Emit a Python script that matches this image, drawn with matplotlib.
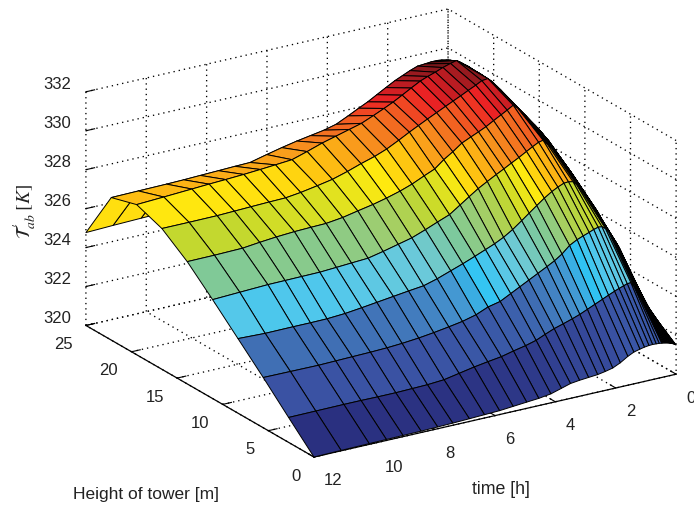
import numpy as np
import matplotlib
matplotlib.use("Agg")
import matplotlib.pyplot as plt
from matplotlib.colors import LinearSegmentedColormap, Normalize

height_m = [0, 2.78, 5.56, 8.33, 11.11, 13.89, 16.67, 19.44, 22.22, 25]
time_h = [12, 11.1, 10.17, 9.6, 9.05, 8.45, 7.9, 7.4, 6.85, 6.35, 5.85, 5.4, 4.95, 4.55,
          4.15, 3.8, 3.5, 3.2, 2.9, 2.6, 2.35, 2.1, 1.85, 1.6, 1.4, 1.2, 1.05, 0.9, 0.78,
          0.66, 0.56, 0.48, 0.45, 0.42, 0.39, 0.36, 0.33, 0.3, 0.275, 0.25, 0.225, 0.2, 0.175,
          0.15, 0.125, 0.1, 0.075, 0.05, 0.025, 0]

temp_h0 = [320.00,320.02,320.04,320.05,320.06,320.07,320.09,320.11,320.14,320.17,320.20,320.26,320.32,320.37,320.46,320.62,320.76,320.82,320.86,320.9,320.97,321.06,321.24,321.48,321.63,321.71,321.76,321.79,321.80,321.79,321.78,321.76,321.755,321.75,321.74,321.73,321.72,321.71,321.70,321.69,321.675,321.66,321.645,321.63,321.615,321.6,321.575,321.55,321.525,321.5]
temp_h1 = [321.28,321.29,321.30,321.30,321.29,321.29,321.31,321.33,321.39,321.54,321.69,321.80,321.90,322.05,322.18,322.33,322.53,322.72,322.86,323.01,323.15,323.32,323.49,323.66,323.80,323.93,324.02,324.10,324.17,324.18,323.95,323.75,323.68,323.6,323.52,323.45,323.38,323.3,323.24,323.18,323.12,323.05,322.98,322.9,322.84,322.78,322.7,322.62,322.54,322.46]
temp_h2 = [322.58,322.57,322.56,322.58,322.60,322.62,322.65,322.70,322.78,322.88,323.00,323.12,323.30,323.56,323.70,323.98,324.22,324.46,324.70,324.94,325.15,325.41,325.76,325.97,326.09,326.2,326.3,326.36,326.35,326.2,326.0,325.8,325.72,325.65,325.58,325.5,325.42,325.35,325.28,325.2,325.12,325.05,324.95,324.85,324.72,324.6,324.48,324.35,324.22,324.1]
temp_h3 = [323.83,323.78,323.79,323.79,323.8,323.86,323.96,324.06,324.17,324.27,324.36,324.56,324.81,325.03,325.27,325.49,325.68,325.91,326.2,326.55,326.85,327.15,327.44,327.69,327.85,327.98,328.0,327.95,327.75,327.5,327.25,327.08,327.02,326.95,326.88,326.8,326.72,326.65,326.6,326.55,326.48,326.42,326.36,326.3,326.22,326.15,326.08,326.0,325.92,325.84]
temp_h4 = [325.08,325.14,325.2,325.21,325.22,325.23,325.28,325.33,325.38,325.55,325.74,325.91,326.17,326.42,326.66,327.03,327.35,327.66,327.92,328.17,328.37,328.58,328.78,329.0,329.17,329.33,329.38,329.1,328.9,328.6,328.35,328.2,328.14,328.07,328.01,327.95,327.88,327.82,327.77,327.72,327.66,327.6,327.54,327.48,327.42,327.35,327.28,327.22,327.15,327.09]
temp_h5 = [326.28,326.29,326.32,326.42,326.5,326.56,326.59,326.61,326.72,326.88,327.03,327.2,327.4,327.62,327.9,328.13,328.5,328.8,329.14,329.35,329.52,329.7,329.92,330.13,330.3,330.48,330.27,330.0,329.8,329.55,329.35,329.2,329.14,329.08,329.02,328.96,328.9,328.83,328.78,328.73,328.68,328.62,328.56,328.5,328.45,328.4,328.35,328.3,328.24,328.19]
temp_h6 = [327.23,327.23,327.24,327.27,327.3,327.33,327.35,327.45,327.6,327.75,327.98,328.22,328.43,328.67,328.98,329.27,329.5,329.73,329.95,330.17,330.35,330.53,330.72,330.9,331.06,331.1,330.88,330.6,330.38,330.12,329.9,329.72,329.67,329.62,329.56,329.5,329.44,329.38,329.33,329.28,329.22,329.17,329.11,329.05,329.0,328.95,328.9,328.85,328.81,328.77]
temp_h7 = [327.71,327.78,327.86,327.91,327.95,328.0,328.06,328.12,328.19,328.43,328.69,328.88,329.07,329.24,329.5,329.74,329.96,330.21,330.47,330.72,330.87,331.0,331.15,331.27,331.35,331.1,330.95,330.75,330.6,330.45,330.32,330.2,330.16,330.12,330.08,330.03,329.99,329.95,329.91,329.87,329.83,329.78,329.73,329.68,329.62,329.57,329.51,329.45,329.38,329.3]
temp_h8 = [327.32,327.34,327.36,327.38,327.41,327.44,327.47,327.49,327.7,327.88,328.04,328.16,328.28,328.44,328.73,329.0,329.22,329.48,329.74,329.99,330.16,330.33,330.47,330.5,330.53,330.53,330.5,330.45,330.4,330.33,330.3,330.22,330.18,330.15,330.11,330.08,330.04,330.0,329.98,329.95,329.92,329.9,329.86,329.82,329.78,329.75,329.71,329.67,329.62,329.58]
temp_h9 = [324.77,324.82,324.86,324.88,324.9,324.93,324.96,324.98,325.2,325.38,325.54,325.66,325.78,325.94,326.2,326.5,326.7,326.95,327.2,327.45,327.6,327.75,327.9,327.95,327.98,327.98,327.95,327.9,327.85,327.8,327.75,327.7,327.68,327.65,327.62,327.6,327.58,327.55,327.52,327.5,327.48,327.45,327.42,327.4,327.38,327.35,327.32,327.3,327.28,327.25]
temp_rows = [temp_h0, temp_h1, temp_h2, temp_h3, temp_h4, temp_h5, temp_h6, temp_h7, temp_h8, temp_h9]

height_ticks = [0, 5, 10, 15, 20, 25]
time_ticks = [0, 2, 4, 6, 8, 10, 12]
temp_ticks = [320, 322, 324, 326, 328, 330, 332]

color_levels = [320.0, 321.3, 322.0, 322.6, 323.1, 323.5, 323.85, 324.4, 325.05, 325.6, 326.3,
                326.8, 327.2, 327.5, 327.8, 328.2, 328.7, 329.3, 329.9, 330.5, 331.0, 331.4]
color_values = ['#2a3080', '#3a53a4', '#3a5aa8', '#4070b5', '#4595d0', '#2fc4f4', '#55c8ea',
                '#6cc9d8', '#7ec99a', '#9fcd6e', '#c3d82e', '#e8e41c', '#ffe90f', '#ffd010',
                '#fdb813', '#f99d1c', '#f47b20', '#f15a22', '#ed2224', '#bc1c22', '#8f1a1e', '#5a1012']

plt.rcParams['font.family'] = ['Liberation Sans', 'DejaVu Sans']
W, H, S = 694, 511, 800
fig = plt.figure(figsize=(W / 100, H / 100), dpi=100)
cx, cy = 370.2, 243.8
ax = fig.add_axes([(cx - S / 2) / W, (H - cy - S / 2) / H, S / W, S / H],
                  projection='3d', proj_type='ortho')
ax.patch.set_alpha(0)
ax.set_box_aspect((1, 1, 0.586), zoom=0.795)
ax.view_init(elev=21.3, azim=147.8)

Z = np.array(temp_rows)
T, X = np.meshgrid(time_h, height_m)
lo, hi = color_levels[0], color_levels[-1]
stops = [(v - lo) / (hi - lo) for v in color_levels]
cmap = LinearSegmentedColormap.from_list('surf', list(zip(stops, color_values)), N=512)
fc = cmap(Normalize(lo, hi)(Z))
ax.plot_surface(X, T, Z, facecolors=fc, shade=False, rstride=1, cstride=1,
                edgecolor='black', linewidth=0.7, antialiased=True)

ax.set_xlim(0, 25)
ax.set_ylim(0, 12)
ax.set_zlim(320, 332)
ax.set_xticks(height_ticks)
ax.set_yticks(time_ticks)
ax.set_zticks(temp_ticks)

for axis in (ax.xaxis, ax.yaxis, ax.zaxis):
    axis.set_pane_color((1, 1, 1, 0))
    axis.pane.set_edgecolor((1, 1, 1, 0))
    axis._axinfo['grid'].update(color='black', linestyle=(0, (1, 3)), linewidth=0.95)
    axis._axinfo['tick'].update(inward_factor=0.0, outward_factor=0.3, linewidth={True: 0.8, False: 0.8})
    axis.set_tick_params(labelsize=12, labelcolor='#222222', color='black')
ax.zaxis.line.set_color((0, 0, 0, 0))
ax.xaxis.line.set_linewidth(0.9)
ax.yaxis.line.set_linewidth(0.9)
ax.zaxis.set_ticks_position('upper')
ax.tick_params(axis='x', pad=3)
ax.tick_params(axis='y', pad=5.5)
ax.tick_params(axis='z', pad=6.5)
plt.setp(ax.get_xticklabels(), ha='right')
plt.setp(ax.get_yticklabels(), ha='left')
plt.setp(ax.get_zticklabels(), va='baseline')

fig.text(73 / W, 1 - 494 / H, 'Height of tower [m]', fontsize=12.5, va='center', ha='left', color='#222222')
fig.text(472 / W, 1 - 489 / H, 'time [h]', fontsize=12.8, va='center', ha='left', color='#222222')
fig.text(25 / W, 1 - 212 / H, r'$\mathcal{T}^{\,\prime}_{ab}\;[K]$', fontsize=14, rotation=90,
         va='center', ha='center', color='#222222', math_fontfamily='stix')

fig.savefig('out.png', dpi=100)
